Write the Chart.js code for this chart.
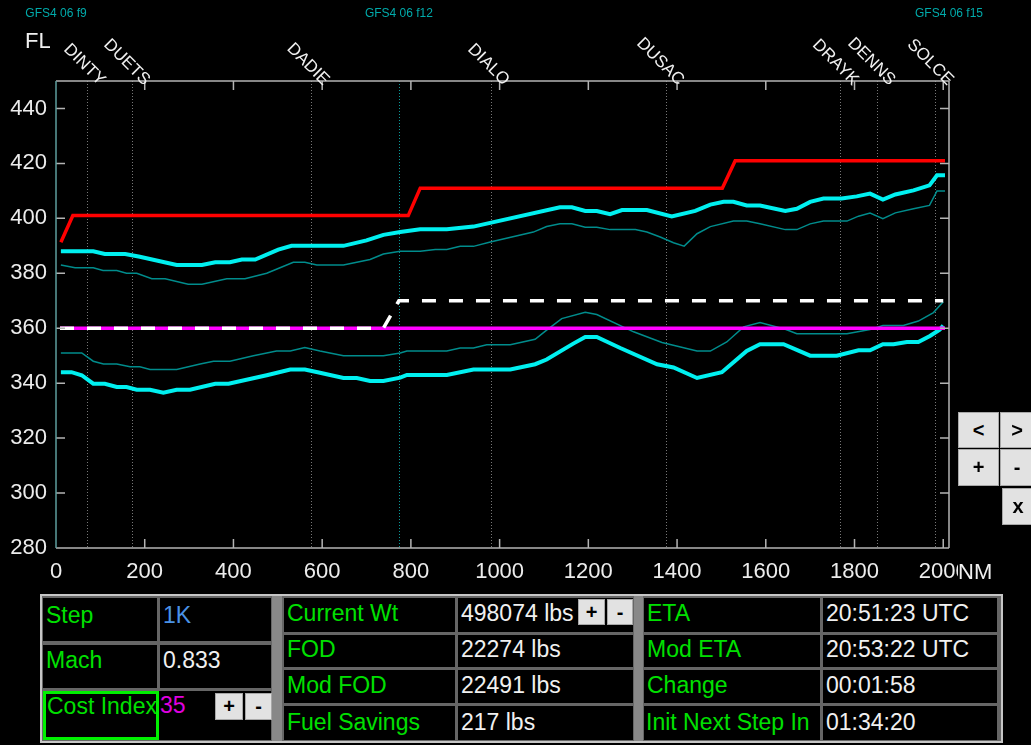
<!DOCTYPE html>
<html>
<head>
<meta charset="utf-8">
<script src="https://cdn.jsdelivr.net/npm/chart.js@4"></script>
<style>
  html, body { margin: 0; padding: 0; background: #000; width: 1031px; height: 745px; overflow: hidden; }
  #c { position: absolute; left: 0; top: 0; }
  .blk { position: absolute; box-sizing: border-box; }
  .cell { position: absolute; box-sizing: border-box; background: #000; padding-left: 3px;
          font: 23px "Liberation Sans", Arial, sans-serif; line-height: 22px; white-space: nowrap; overflow: hidden; color: #f0f0f0; }
  .g { color: #00e000; }
  .btn { position: absolute; box-sizing: border-box; background: #e2e2e2; border: 1px solid #a8a8a8;
         font: bold 20px "Liberation Sans", Arial, sans-serif; color: #000; text-align: center; }
</style>
</head>
<body>
<canvas id="c" width="1031" height="592"></canvas>

<!-- bottom panel -->
<div class="blk" style="left:40px;top:594px;width:963px;height:149px;background:#c6c6c6"></div>
<div class="blk" style="left:42px;top:596px;width:959px;height:145px;background:#666"></div>
<div class="blk" style="left:272px;top:596px;width:10px;height:145px;background:#888"></div>
<div class="blk" style="left:634px;top:596px;width:9px;height:145px;background:#888"></div>

<div class="cell g" style="left:43px;top:598px;width:114px;height:43px;padding-top:6px">Step</div>
<div class="cell" style="left:160px;top:598px;width:111px;height:43px;padding-top:6px;color:#4a92e6">1K</div>
<div class="cell g" style="left:43px;top:645px;width:114px;height:43px;padding-top:4px">Mach</div>
<div class="cell" style="left:160px;top:645px;width:111px;height:43px;padding-top:4px">0.833</div>
<div class="cell g" style="left:43px;top:691px;width:116px;height:49px;padding-top:1px;border:3px solid #00f000;padding-left:1px">Cost Index</div>
<div class="cell" style="left:159px;top:691px;width:112px;height:49px;padding-top:3px;padding-left:1px;color:#e000e0">35</div>
<div class="btn" style="left:215px;top:693px;width:28px;height:27px;line-height:25px">+</div>
<div class="btn" style="left:245px;top:693px;width:27px;height:27px;line-height:25px">-</div>

<div class="cell g" style="left:284px;top:598px;width:171px;height:34px;padding-top:4px">Current Wt</div>
<div class="cell" style="left:458px;top:598px;width:175px;height:34px;padding-top:4px">498074 lbs</div>
<div class="btn" style="left:578px;top:599px;width:27px;height:26px;line-height:24px">+</div>
<div class="btn" style="left:607px;top:599px;width:26px;height:26px;line-height:24px">-</div>
<div class="cell g" style="left:284px;top:635px;width:171px;height:32px;padding-top:3px">FOD</div>
<div class="cell" style="left:458px;top:635px;width:175px;height:32px;padding-top:3px">22274 lbs</div>
<div class="cell g" style="left:284px;top:670px;width:171px;height:33px;padding-top:4px">Mod FOD</div>
<div class="cell" style="left:458px;top:670px;width:175px;height:33px;padding-top:4px">22491 lbs</div>
<div class="cell g" style="left:284px;top:706px;width:171px;height:34px;padding-top:5px">Fuel Savings</div>
<div class="cell" style="left:458px;top:706px;width:175px;height:34px;padding-top:5px">217 lbs</div>

<div class="cell g" style="left:644px;top:598px;width:176px;height:34px;padding-top:4px">ETA</div>
<div class="cell" style="left:823px;top:598px;width:174px;height:34px;padding-top:4px">20:51:23 UTC</div>
<div class="cell g" style="left:644px;top:635px;width:176px;height:32px;padding-top:3px">Mod ETA</div>
<div class="cell" style="left:823px;top:635px;width:174px;height:32px;padding-top:3px">20:53:22 UTC</div>
<div class="cell g" style="left:644px;top:670px;width:176px;height:33px;padding-top:4px">Change</div>
<div class="cell" style="left:823px;top:670px;width:174px;height:33px;padding-top:4px">00:01:58</div>
<div class="cell g" style="left:644px;top:706px;width:176px;height:34px;padding-top:5px;padding-left:2px">Init Next Step In</div>
<div class="cell" style="left:823px;top:706px;width:174px;height:34px;padding-top:5px">01:34:20</div>

<!-- side buttons -->
<div class="btn" style="left:958px;top:412px;width:41px;height:36px;line-height:34px">&lt;</div>
<div class="btn" style="left:1000px;top:412px;width:34px;height:36px;line-height:34px">&gt;</div>
<div class="btn" style="left:958px;top:449px;width:41px;height:37px;line-height:35px">+</div>
<div class="btn" style="left:1000px;top:449px;width:34px;height:37px;line-height:35px">-</div>
<div class="btn" style="left:1002px;top:488px;width:32px;height:37px;line-height:35px">x</div>

<script>
// axis ticks
const distTicks = [0, 200, 400, 600, 800, 1000, 1200, 1400, 1600, 1800, 2000];
const flTicks = [280, 300, 320, 340, 360, 380, 400, 420, 440];

// waypoints along the route (NM)
const waypointNames = ['DINTY', 'DUETS', 'DADIE', 'DIALO', 'DUSAC', 'DRAYK', 'DENNS', 'SOLCE'];
const waypointNm = [70, 171, 575, 981, 1375, 1768, 1851, 1982];

// forecast boundaries
const forecastNames = ['GFS4 06 f9', 'GFS4 06 f12', 'GFS4 06 f15'];
const forecastNm = [0, 773, 2013];

// planned step climb (red)
const planNm = [11, 38, 794, 821, 1502, 1531, 2004];
const planFl = [391.3, 401, 401, 411, 411, 421, 421];

// modified step profile (white dashed)
const modNm = [9, 738, 773, 2000];
const modFl = [360, 360, 370, 370];

// current level (magenta)
const currentNm = [9, 2004];
const currentFl = [360, 360];

// upper limit, thick cyan
const hiNm = [11, 84, 110, 156, 189, 272, 329, 359, 392, 419, 449, 501, 531, 648, 700, 738, 776, 821, 881, 941,
  1136, 1163, 1193, 1219, 1249, 1276, 1332, 1388, 1441, 1475, 1505, 1527, 1557, 1587, 1644, 1670, 1700, 1730,
  1771, 1805, 1835, 1864, 1892, 1933, 1969, 1986, 2004];
const hiFl = [388, 388, 387, 387, 386, 383, 383, 384, 384, 385, 385, 388.6, 390, 390, 392, 394, 395, 396, 396, 397,
  404, 404, 402.7, 402.7, 401.5, 403, 403, 400.7, 402.7, 405, 406, 406, 404.7, 404.7, 402.7, 403.5, 406, 407.2,
  407.2, 408, 409, 406.8, 408.7, 410.2, 412, 415.7, 415.7];

// upper limit, thin teal
const hiThinNm = [11, 43, 84, 106, 137, 159, 182, 216, 246, 298, 329, 385, 426, 475, 505, 535, 561, 588, 648, 708,
  738, 776, 821, 855, 881, 911, 941, 979, 1076, 1106, 1136, 1163, 1193, 1219, 1249, 1306, 1332, 1362, 1392, 1416,
  1445, 1475, 1527, 1557, 1587, 1644, 1670, 1700, 1730, 1783, 1809, 1835, 1864, 1892, 1933, 1969, 1986, 2004];
const hiThinFl = [383, 382, 382, 381, 381, 380, 380, 378, 378, 376, 376, 378, 378, 380, 382, 384, 384, 383, 383, 385,
  387, 388, 388, 388.7, 388.7, 389.8, 389.8, 391.4, 395, 397, 398, 398, 396.8, 396.8, 395.9, 395.9, 395, 393.2, 391.1, 389.9,
  394.4, 397, 399, 399, 398, 395.9, 395.9, 398, 399, 399, 400.8, 401.9, 399.9, 402, 403.5, 404.7, 410, 410];

// lower limit, thin teal
const loThinNm = [11, 58, 84, 107, 137, 167, 189, 212, 272, 325, 355, 392, 445, 497, 528, 561, 595, 648, 738, 776,
  791, 881, 911, 941, 971, 1024, 1080, 1106, 1140, 1193, 1219, 1302, 1366, 1445, 1475, 1512, 1550, 1587, 1644,
  1670, 1783, 1835, 1864, 1910, 1944, 1978, 2000];
const loThinFl = [351, 351, 348, 347, 347, 346, 346, 345, 345, 347, 348, 348, 350, 351.7, 351.7, 353, 351.7, 350, 350, 351,
  351.7, 351.7, 352.8, 352.8, 354, 354, 356, 359.3, 363.5, 365.8, 365, 358.7, 354.8, 351.7, 351.7, 355, 360.5, 362.1, 359.6,
  358, 358, 359.5, 361, 361, 362.6, 365.7, 369.6];

// lower limit, thick cyan
const loNm = [11, 35, 58, 84, 110, 137, 159, 182, 212, 242, 272, 302, 359, 389, 475, 528, 561, 595, 648, 678, 708,
  738, 776, 791, 881, 941, 1024, 1080, 1106, 1166, 1193, 1219, 1272, 1355, 1392, 1445, 1501, 1557, 1587, 1640,
  1700, 1760, 1809, 1835, 1864, 1888, 1918, 1944, 1970, 1992, 2000];
const loFl = [344, 344, 342.9, 339.8, 339.8, 338.6, 338.6, 337.6, 337.6, 336.5, 337.6, 337.6, 339.8, 339.8, 342.9, 345, 345,
  343.8, 341.9, 341.9, 340.8, 340.8, 342, 343, 343, 345, 345, 346.9, 348.6, 354.4, 356.8, 356.8, 352.8, 346.9, 345.7,
  341.9, 344, 351.7, 354.2, 354.2, 350, 350, 352, 352, 354.2, 354.2, 355, 355, 357.2, 359.5, 361];

const FONT = '"Liberation Sans", Arial, sans-serif';
const pts = (xs, ys) => xs.map((v, i) => ({ x: v, y: ys[i] }));

function line(label, xs, ys, color, width, order, dash) {
    return {
        label: label,
        data: pts(xs, ys),
        borderColor: color,
        borderWidth: width,
        borderDash: dash || [],
        borderCapStyle: 'butt',
        pointRadius: 0,
        tension: 0,
        fill: false,
        order: order
    };
}

// frame, inward ticks, waypoint markers and texts
const routeDecor = {
    id: 'routeDecor',
    beforeDatasetsDraw(chart) {
        const { ctx, chartArea: a, scales: { x } } = chart;
        ctx.save();
        ctx.lineWidth = 1;
        ctx.setLineDash([1, 2]);
        ctx.strokeStyle = '#777';
        waypointNm.forEach(nm => {
            const px = Math.round(x.getPixelForValue(nm)) + 0.5;
            ctx.beginPath(); ctx.moveTo(px, a.top); ctx.lineTo(px, a.bottom); ctx.stroke();
        });
        ctx.strokeStyle = '#0a9a9a';
        const fx = Math.round(x.getPixelForValue(forecastNm[1])) + 0.5;
        ctx.beginPath(); ctx.moveTo(fx, a.top); ctx.lineTo(fx, a.bottom); ctx.stroke();
        ctx.restore();
    },
    afterDatasetsDraw(chart) {
        const { ctx, chartArea: a, scales: { x, y } } = chart;
        ctx.save();
        ctx.lineWidth = 1.5;
        ctx.strokeStyle = '#b4b4b4';
        ctx.beginPath();
        ctx.moveTo(a.left, a.top); ctx.lineTo(a.right, a.top);
        ctx.moveTo(a.right, a.top); ctx.lineTo(a.right, a.bottom);
        ctx.moveTo(a.left, a.bottom); ctx.lineTo(a.right, a.bottom);
        distTicks.slice(1).forEach(v => {
            const px = x.getPixelForValue(v);
            ctx.moveTo(px, a.bottom); ctx.lineTo(px, a.bottom - 9);
            ctx.moveTo(px, a.top); ctx.lineTo(px, a.top + 9);
        });
        flTicks.slice(1).forEach(v => {
            const py = y.getPixelForValue(v);
            ctx.moveTo(a.left, py); ctx.lineTo(a.left + 9, py);
            ctx.moveTo(a.right, py); ctx.lineTo(a.right - 9, py);
        });
        ctx.stroke();
        ctx.strokeStyle = '#5e9e9e';
        ctx.beginPath(); ctx.moveTo(a.left, a.top); ctx.lineTo(a.left, a.bottom); ctx.stroke();
        ctx.restore();
    },
    afterDraw(chart) {
        const { ctx, chartArea: a, scales: { x } } = chart;
        ctx.save();
        // forecast labels
        ctx.font = '12px ' + FONT;
        ctx.fillStyle = '#00aaaa';
        ctx.textAlign = 'center';
        ctx.textBaseline = 'middle';
        forecastNames.forEach((t, i) => ctx.fillText(t, x.getPixelForValue(forecastNm[i]), 14));
        // FL / NM
        ctx.font = '22px ' + FONT;
        ctx.fillStyle = '#f0f0f0';
        ctx.textAlign = 'left';
        ctx.textBaseline = 'alphabetic';
        ctx.fillText('FL', 25, 48);
        ctx.fillStyle = '#000';
        ctx.fillRect(958, a.bottom + 8, 50, 26);
        ctx.fillStyle = '#f0f0f0';
        ctx.fillText('NM', 958, a.bottom + 31);
        // waypoint names
        ctx.font = '17px ' + FONT;
        ctx.textAlign = 'right';
        waypointNames.forEach((n, i) => {
            const px = x.getPixelForValue(waypointNm[i]);
            ctx.save();
            ctx.translate(px + 12, a.top + 5);
            ctx.rotate(Math.PI / 4);
            ctx.fillText(n, 0, 0);
            ctx.restore();
        });
        ctx.restore();
    }
};

new Chart(document.getElementById('c'), {
    type: 'line',
    data: {
        datasets: [
            line('Lower thin', loThinNm, loThinFl, '#008c8c', 1.5, 6),
            line('Upper thin', hiThinNm, hiThinFl, '#008c8c', 1.5, 5),
            line('Lower', loNm, loFl, '#00f0f0', 4, 4),
            line('Upper', hiNm, hiFl, '#00f0f0', 4, 3),
            line('Plan', planNm, planFl, '#ff0000', 3.5, 2),
            line('Current', currentNm, currentFl, '#ff00ff', 3.5, 1),
            line('Modified', modNm, modFl, '#ffffff', 3.5, 0, [14, 13])
        ]
    },
    options: {
        responsive: false,
        animation: false,
        devicePixelRatio: 1,
        layout: { padding: { left: 0, top: 81, right: 82, bottom: 0 } },
        plugins: { legend: { display: false }, tooltip: { enabled: false } },
        scales: {
            x: {
                type: 'linear',
                min: 0,
                max: 2013,
                grid: { display: false, drawTicks: false },
                border: { display: false },
                afterFit: s => { s.height = 44; },
                afterBuildTicks: s => { s.ticks = distTicks.map(v => ({ value: v })); },
                ticks: {
                    color: '#ececec',
                    font: { size: 22, family: FONT },
                    padding: 11,
                    maxRotation: 0,
                    autoSkip: false,
                    callback: v => String(v)
                }
            },
            y: {
                type: 'linear',
                min: 280,
                max: 450,
                grid: { display: false, drawTicks: false },
                border: { display: false },
                afterFit: s => { s.width = 56; },
                afterBuildTicks: s => { s.ticks = flTicks.map(v => ({ value: v })); },
                ticks: {
                    color: '#ececec',
                    font: { size: 22, family: FONT },
                    padding: 9,
                    autoSkip: false,
                    callback: v => String(v)
                }
            }
        }
    },
    plugins: [routeDecor]
});
</script>
</body>
</html>
